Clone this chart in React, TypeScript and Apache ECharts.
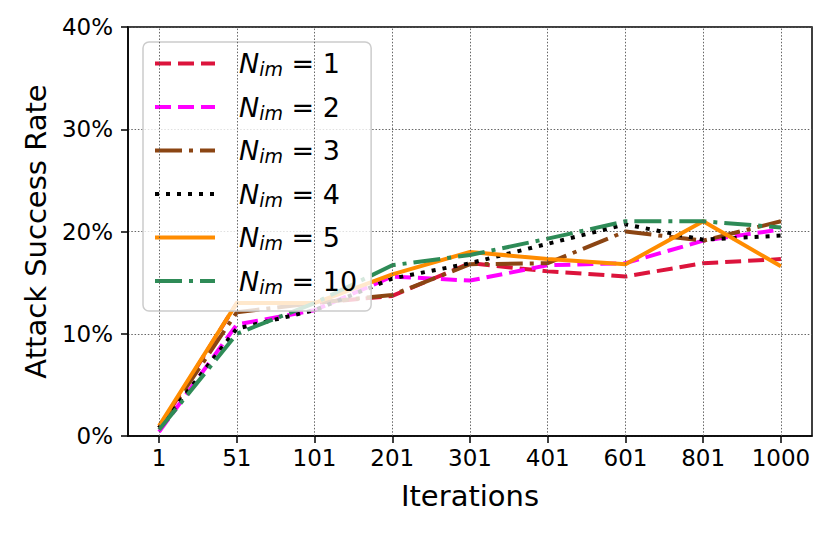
import React, { useEffect, useRef } from "react";
import * as echarts from "echarts";

const categories = ["1", "51", "101", "201", "301", "401", "601", "801", "1000"];
const yTicks = [0, 10, 20, 30, 40];

const nim1 = [0.8, 13.0, 13.0, 13.7, 16.9, 16.1, 15.6, 16.9, 17.3];
const nim2 = [0.4, 10.9, 12.3, 15.6, 15.2, 16.7, 16.9, 19.1, 20.2];
const nim3 = [0.8, 12.1, 13.0, 13.8, 16.8, 16.9, 20.0, 19.1, 21.0];
const nim4 = [0.8, 10.5, 12.3, 15.4, 16.9, 18.8, 20.7, 19.2, 19.6];
const nim5 = [1.0, 13.0, 13.0, 15.8, 18.0, 17.3, 16.8, 21.0, 16.6];
const nim10 = [0.6, 10.0, 13.0, 16.7, 17.7, 19.3, 21.0, 21.0, 20.4];

const seriesDefs = [
  { n: "1", data: nim1, color: "#DC143C", dash: [16, 7] },
  { n: "2", data: nim2, color: "#FF00FF", dash: [16, 7] },
  { n: "3", data: nim3, color: "#8B4513", dash: [27, 7, 4, 7] },
  { n: "4", data: nim4, color: "#000000", dash: [4, 7] },
  { n: "5", data: nim5, color: "#FF8C00", dash: "solid" as any },
  { n: "10", data: nim10, color: "#2E8B57", dash: [27, 7, 4, 7] },
];

const FONT = "DejaVu Sans";
const gridDotted = { color: "#555", width: 0.9, type: [1.5, 1.8] as any };

export default function App() {
  const ref = useRef<HTMLDivElement>(null);
  useEffect(() => {
    document.body.style.margin = "0";
    const chart = echarts.init(ref.current!, null, { renderer: "svg" });
    const idx = categories.map((_, i) => i);
    const option: any = {
      animation: false,
      backgroundColor: "#fff",
      textStyle: { fontFamily: FONT },
      grid: {
        left: 128,
        top: 27,
        right: 19,
        bottom: 97,
        show: true,
        borderColor: "#000",
        borderWidth: 1.5,
        backgroundColor: "transparent",
      },
      xAxis: {
        type: "value",
        min: -0.4,
        max: 8.4,
        name: "Iterations",
        nameLocation: "middle",
        nameGap: 45,
        nameTextStyle: { fontSize: 29, color: "#000", fontFamily: FONT },
        axisLine: { show: true, onZero: false, lineStyle: { color: "#000", width: 1.5 } },
        axisTick: {
          show: true,
          length: 7,
          inside: false,
          customValues: idx,
          lineStyle: { color: "#000", width: 1.5 },
        },
        axisLabel: {
          customValues: idx,
          formatter: (v: number) => categories[Math.round(v)],
          fontSize: 23,
          color: "#000",
          margin: 10,
          fontFamily: FONT,
        },
        splitLine: { show: false },
      },
      yAxis: {
        type: "value",
        min: 0,
        max: 40,
        interval: 10,
        name: "Attack Success Rate",
        nameLocation: "middle",
        nameGap: 78,
        nameTextStyle: { fontSize: 29, color: "#000", fontFamily: FONT },
        axisLine: { show: true, onZero: false, lineStyle: { color: "#000", width: 1.5 } },
        axisTick: { show: true, length: 7, lineStyle: { color: "#000", width: 1.5 } },
        axisLabel: {
          formatter: (v: number) => (yTicks.includes(v) ? `${v}%` : ""),
          fontSize: 23,
          color: "#000",
          margin: 15,
          fontFamily: FONT,
        },
        splitLine: { show: true, lineStyle: gridDotted },
      },
      legend: {
        orient: "vertical",
        left: 143,
        top: 42,
        padding: [8, 14, 15, 10],
        itemWidth: 60,
        itemHeight: 30,
        itemGap: 15,
        backgroundColor: "rgba(255,255,255,0.8)",
        borderColor: "#cccccc",
        borderWidth: 1.5,
        borderRadius: 6,
        data: seriesDefs.map((s) => `N_im = ${s.n}`),
        lineStyle: { width: 4 },
        itemStyle: { opacity: 0 },
        formatter: (name: string) => {
          const num = name.split("= ")[1];
          return `{n|N}{s|im}{e| = ${num}}`;
        },
        textStyle: {
          padding: [0, 0, 0, 19],
          color: "#000",
          fontFamily: FONT,
          rich: {
            n: { fontSize: 27, fontStyle: "italic", lineHeight: 30, fontFamily: FONT, color: "#000" },
            s: {
              fontSize: 19,
              fontStyle: "italic",
              lineHeight: 19,
              verticalAlign: "bottom",
              fontFamily: FONT,
              color: "#000",
            },
            e: { fontSize: 27, lineHeight: 30, fontFamily: FONT, color: "#000" },
          },
        },
      },
      series: [
        {
          type: "line",
          name: "grid",
          data: [[0, 0]],
          showSymbol: false,
          symbol: "none",
          silent: true,
          lineStyle: { opacity: 0 },
          markLine: {
            silent: true,
            symbol: ["none", "none"],
            label: { show: false },
            lineStyle: gridDotted,
            data: idx.map((i) => ({ xAxis: i })),
          },
        },
        ...seriesDefs.map((s) => ({
          type: "line",
          name: `N_im = ${s.n}`,
          data: s.data.map((v, i) => [i, v]),
          symbol: "none",
          showSymbol: false,
          color: s.color,
          lineStyle: { color: s.color, width: 4, type: s.dash, cap: "butt", join: "round" },
        })),
      ],
    };
    chart.setOption(option);
    return () => chart.dispose();
  }, []);
  return <div ref={ref} style={{ width: 831, height: 533 }} />;
}
